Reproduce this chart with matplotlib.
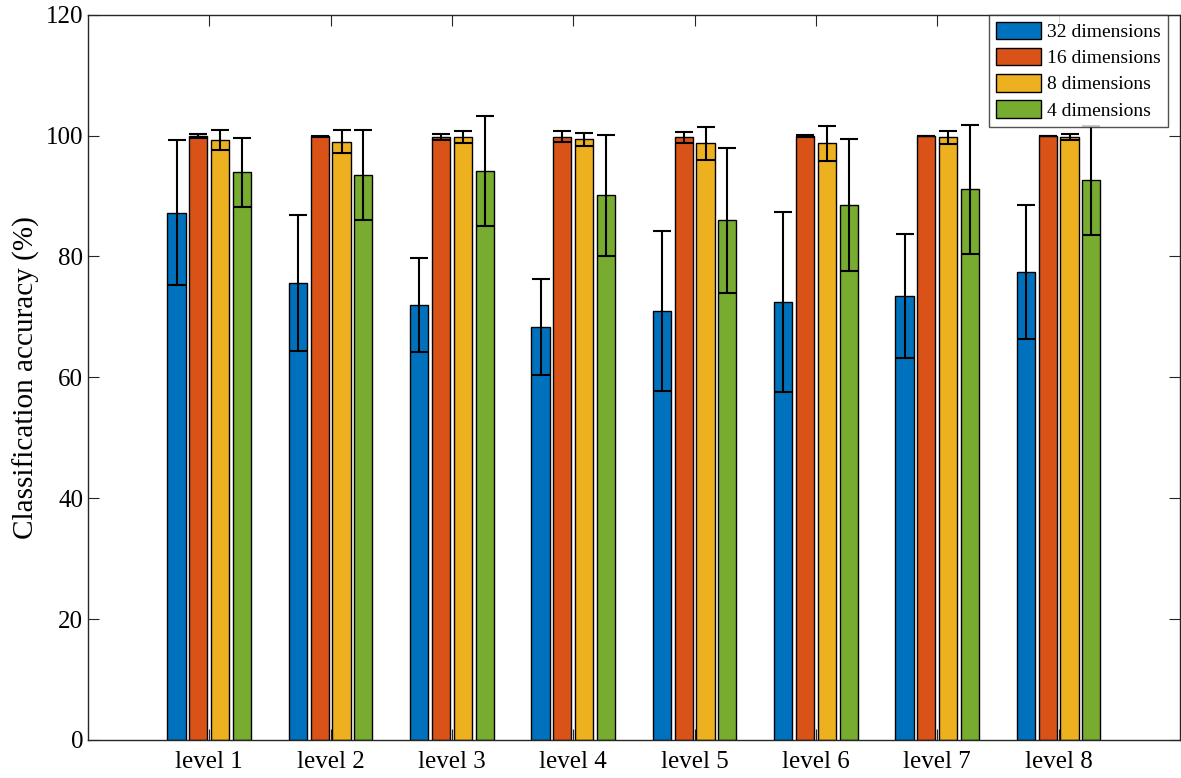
import matplotlib
matplotlib.use("Agg")
import matplotlib.pyplot as plt
import numpy as np

# -----------------------------
# Data
# -----------------------------
LEVELS = ["level 1", "level 2", "level 3", "level 4",
          "level 5", "level 6", "level 7", "level 8"]
SERIES_NAMES = ["32 dimensions", "16 dimensions", "8 dimensions", "4 dimensions"]

acc_32 = [87.2, 75.6, 72.0, 68.3, 71.0, 72.4, 73.5, 77.4]
err_32 = [12.0, 11.2, 7.8, 7.9, 13.2, 14.9, 10.3, 11.1]

acc_16 = [99.9, 99.9, 99.7, 99.8, 99.7, 99.9, 100.0, 100.0]
err_16 = [0.3, 0.1, 0.5, 0.9, 0.9, 0.2, 0.0, 0.0]

acc_8 = [99.3, 99.0, 99.7, 99.4, 98.7, 98.7, 99.7, 99.8]
err_8 = [1.7, 1.9, 1.0, 1.1, 2.8, 2.9, 1.1, 0.5]

acc_4 = [93.9, 93.5, 94.1, 90.1, 86.0, 88.5, 91.1, 92.6]
err_4 = [5.7, 7.5, 9.1, 10.0, 12.0, 10.9, 10.7, 9.0]

# MATLAB default colour order
COLORS = ["#0072BD", "#D95319", "#EDB120", "#77AC30"]
AXIS_GREY = "#262626"

plt.rcParams["font.family"] = ["Liberation Serif", "DejaVu Serif"]

fig = plt.figure(figsize=(11.81, 7.78), dpi=100)
ax = fig.add_axes([0.0745, 0.049, 0.9246, 0.932])

x = np.arange(1, len(LEVELS) + 1)
offsets = [-0.27, -0.09, 0.09, 0.27]
bar_width = 0.15

all_acc = [acc_32, acc_16, acc_8, acc_4]
all_err = [err_32, err_16, err_8, err_4]

for name, acc, err, off, color in zip(SERIES_NAMES, all_acc, all_err, offsets, COLORS):
    ax.bar(x + off, acc, width=bar_width, color=color, edgecolor="black",
           linewidth=1.0, label=name, zorder=2)
    ax.errorbar(x + off, acc, yerr=err, fmt="none", ecolor="black",
                elinewidth=1.5, capsize=6.5, capthick=1.5, zorder=3)

ax.set_xlim(0, 9)
ax.set_ylim(0, 120)
ax.set_xticks(x)
ax.set_xticklabels(LEVELS)
ax.set_yticks(np.arange(0, 121, 20))
ax.tick_params(axis="both", direction="in", labelsize=18, top=True, right=True,
               length=8, width=0.8, colors=AXIS_GREY, labelcolor="black")
ax.tick_params(axis="x", pad=8)
ax.set_ylabel("Classification accuracy (%)", fontsize=21)

for spine in ax.spines.values():
    spine.set_color(AXIS_GREY)
    spine.set_linewidth(1.0)

legend = ax.legend(loc="upper right", bbox_to_anchor=(0.989, 1.0), fontsize=14,
                   frameon=True, fancybox=False, edgecolor=AXIS_GREY,
                   borderpad=0.36, labelspacing=0.35, handlelength=2.35,
                   handleheight=1.0, handletextpad=0.3, borderaxespad=0.0)
legend.get_frame().set_linewidth(1.0)

fig.savefig("out.png", dpi=100)
